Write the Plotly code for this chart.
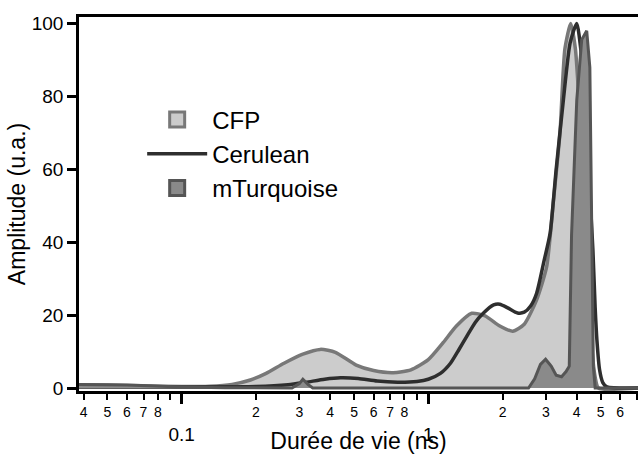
import plotly.graph_objects as go

# Lifetime distributions (ns) and amplitudes (a.u.)
cfp_tau = [0.038, 0.05, 0.07, 0.1, 0.13, 0.16, 0.19, 0.22, 0.26, 0.31, 0.365, 0.42, 0.51, 0.6,
           0.72, 0.85, 1.0, 1.15, 1.3, 1.5, 1.7, 1.95, 2.2, 2.45, 2.75, 3.02, 3.22, 3.42, 3.58,
           3.78, 3.95, 4.15, 4.35, 4.55, 4.75, 4.9, 7.1]
cfp_amp = [0.9, 0.8, 0.6, 0.4, 0.5, 1.0, 2.2, 4.0, 6.8, 9.3, 10.6, 9.8, 6.3, 4.8,
           4.2, 5.0, 7.8, 12.5, 17.0, 20.5, 19.8, 17.0, 15.6, 17.5, 24.2, 33.3, 51.6, 70.0, 93.0,
           100.0, 93.0, 70.0, 40.0, 15.0, 3.0, 0.0, 0.0]

cer_tau = [0.038, 0.1, 0.2, 0.27, 0.32, 0.38, 0.44, 0.52, 0.62, 0.75, 0.9, 1.0, 1.12, 1.23,
           1.33, 1.43, 1.55, 1.67, 1.84, 1.95, 2.1, 2.3, 2.45, 2.6, 2.75, 2.95, 3.12, 3.3, 3.53,
           3.76, 4.0, 4.2, 4.4, 4.55, 4.65, 4.75, 4.83, 4.95, 5.1, 5.3, 7.1]
cer_amp = [0.3, 0.3, 0.4, 0.9, 1.6, 2.4, 2.8, 2.6, 1.9, 1.6, 1.8, 2.4, 4.0, 6.8,
           10.5, 14.1, 18.0, 20.5, 22.8, 23.0, 22.0, 20.6, 20.8, 22.5, 26.0, 35.0, 42.5, 60.0, 79.0,
           94.7, 100.0, 90.0, 75.0, 50.0, 38.0, 22.0, 13.0, 5.0, 1.5, 0.3, 0.0]

mtq_tau = [0.038, 0.06, 0.1, 0.15, 0.28, 0.3, 0.31, 0.325, 0.34, 2.55, 2.7, 2.85, 2.99, 3.15,
           3.3, 3.47, 3.62, 3.73, 3.81, 4.0, 4.19, 4.39, 4.52, 4.6, 4.67, 4.75, 7.1]
mtq_amp = [1.0, 0.8, 0.3, 0.1, 0.0, 1.2, 2.4, 1.0, 0.0, 0.0, 2.5, 6.5, 7.9, 6.0,
           3.5, 3.1, 4.5, 6.0, 42.0, 79.0, 95.6, 98.0, 88.0, 40.0, 6.0, 0.0, 0.0]

series_names = ["CFP", "Cerulean", "mTurquoise"]

# Log-axis tick labels
minor_vals = [0.04, 0.05, 0.06, 0.07, 0.08, 0.09,
              0.2, 0.3, 0.4, 0.5, 0.6, 0.7, 0.8, 0.9,
              2, 3, 4, 5, 6, 7]
minor_text = ["4", "5", "6", "7", "8", "",
              "2", "3", "4", "5", "6", "7", "8", "",
              "2", "3", "4", "5", "6", "7"]
major_vals = [0.1, 1]
major_text = ["0.1", "1"]
y_ticks = [0, 20, 40, 60, 80, 100]

FONT = "Liberation Sans, Arial, sans-serif"
CFP_FILL, CFP_LINE = "#cccccc", "#787878"
CER_LINE = "#2e2e2e"
MTQ_FILL, MTQ_LINE = "#8a8a8a", "#555555"

fig = go.Figure()

fig.add_trace(go.Scatter(
    x=cfp_tau, y=cfp_amp, mode="lines", fill="tozeroy", fillcolor=CFP_FILL,
    line=dict(color=CFP_LINE, width=3.5, shape="spline", smoothing=0.6),
    showlegend=False, hoverinfo="skip"))
fig.add_trace(go.Scatter(
    x=cer_tau, y=cer_amp, mode="lines",
    line=dict(color=CER_LINE, width=3.5, shape="spline", smoothing=0.6),
    showlegend=False, hoverinfo="skip"))
fig.add_trace(go.Scatter(
    x=mtq_tau, y=mtq_amp, mode="lines", fill="tozeroy", fillcolor=MTQ_FILL,
    line=dict(color=MTQ_LINE, width=3),
    showlegend=False, hoverinfo="skip"))

# Legend entries
fig.add_trace(go.Scatter(
    x=[None], y=[None], mode="markers", name=series_names[0], legendgroup="a",
    marker=dict(symbol="square", size=15, color=CFP_FILL, line=dict(color=CFP_LINE, width=3))))
fig.add_trace(go.Scatter(
    x=[None], y=[None], mode="lines", name=series_names[1], legendgroup="b",
    line=dict(color=CER_LINE, width=3.5)))
fig.add_trace(go.Scatter(
    x=[None], y=[None], mode="markers", name=series_names[2], legendgroup="c", xaxis="x2",
    marker=dict(symbol="square", size=15, color=MTQ_FILL, line=dict(color=MTQ_LINE, width=3))))

x_range = [-1.4165, 0.8504]

fig.update_layout(
    width=638, height=454,
    margin=dict(l=79, r=0, t=17, b=63),
    paper_bgcolor="white", plot_bgcolor="white",
    font=dict(family=FONT, color="black"),
    showlegend=True,
    legend=dict(x=0.113, y=0.785, xanchor="left", yanchor="top",
                font=dict(size=24, family=FONT), bgcolor="rgba(0,0,0,0)",
                traceorder="grouped", tracegroupgap=0, itemwidth=60),
    xaxis=dict(
        type="log", range=x_range, tickmode="array", tickvals=minor_vals, ticktext=minor_text,
        ticks="outside", ticklen=6, tickwidth=2, tickcolor="black",
        tickfont=dict(size=14, family=FONT),
        showline=True, linecolor="black", linewidth=2.5, mirror=True,
        showgrid=False, zeroline=False,
        title=dict(text="Durée de vie (ns)", font=dict(size=23, family=FONT), standoff=19),
    ),
    xaxis2=dict(
        type="log", range=x_range, overlaying="x", anchor="y", side="bottom",
        tickmode="array", tickvals=major_vals, ticktext=major_text,
        ticks="outside", ticklen=12, tickwidth=2.5, tickcolor="black",
        tickfont=dict(size=19, family=FONT), ticklabelstandoff=14,
        showline=False, showgrid=False, zeroline=False,
    ),
    yaxis=dict(
        range=[-0.82, 101.8], tickmode="array", tickvals=y_ticks,
        ticks="outside", ticklen=9, tickwidth=2.5, tickcolor="black",
        tickfont=dict(size=19, family=FONT),
        showline=True, linecolor="black", linewidth=2.5,
        showgrid=False, zeroline=False,
        title=dict(text="Amplitude (u.a.)", font=dict(size=23, family=FONT), standoff=0),
    ),
)

fig.write_html("out.html")
